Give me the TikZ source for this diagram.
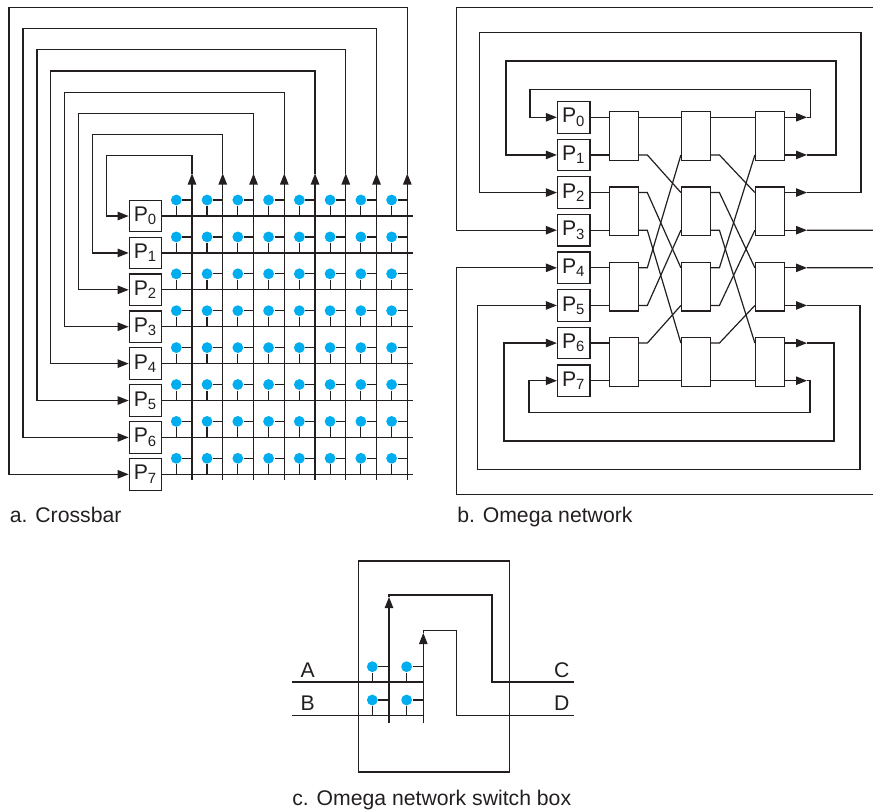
\documentclass[tikz,border=0pt]{standalone}
\usepackage{fontspec}
\setmainfont{Liberation Sans}
\usetikzlibrary{arrows.meta}
\definecolor{linecolor}{HTML}{231F20}
\definecolor{dotcolor}{HTML}{00AEEF}
\newcommand{\figfont}{\fontsize{10.6}{12.7}\selectfont}

\begin{document}
\begin{tikzpicture}[x=0.5pt, y=-0.5pt, line width=0.6pt, color=linecolor,
    pbox/.style={draw, fill=white, minimum width=16.2pt, minimum height=15.8pt,
                 inner sep=0pt, font=\figfont},
    sbox/.style={draw, minimum width=14.4pt, minimum height=24.4pt, inner sep=0pt},
    xdot/.style={circle, fill=dotcolor, inner sep=0pt, minimum size=5.4pt},
    arr/.style={-{Triangle[length=5.5pt, width=4.2pt]}},
    figtext/.style={inner sep=0pt, font=\figfont}
]
    \useasboundingbox (0,0) rectangle (873,810);

    % Crossbar: processors
    \foreach \k in {0,...,7}
        \node[pbox] (cp\k) at (145.5, 216+36.9*\k) {P\textsubscript{\k}};

    % Crossbar: rows, columns and the lines back to the processors
    \foreach \k in {0,...,7} {
        \draw (cp\k.east) -- (413, 216+36.9*\k);
        \draw[arr] (192+30.76*\k, 480) -- (192+30.76*\k, 173.5);
        \draw[arr] (192+30.76*\k, 173.5) |- (106.7-13.96*\k, 155.7-21.2*\k)
              |- (cp\k.west);
    }

    % Crossbar: crosspoints
    \foreach \i in {0,...,7}
        \foreach \m in {0,...,7} {
            \node[xdot] (x\i\m) at (176.3+30.76*\m, 200+36.9*\i) {};
            \draw (x\i\m) -- (176.3+30.76*\m, 216+36.9*\i);
            \draw (x\i\m) -- (192+30.76*\m, 200+36.9*\i);
        }

    % Omega network: processors
    \foreach \k in {0,...,7}
        \node[pbox] (op\k) at (573.7, 117.3+37.63*\k) {P\textsubscript{\k}};

    % Omega network: switch boxes, three stages
    \foreach \s/\sx in {1/623.8, 2/695.9, 3/769.9}
        \foreach \p in {0,...,3}
            \node[sbox] (s\s\p) at (\sx, 136.1+75.26*\p) {};

    % processors to first stage
    \foreach \k in {0,...,7} {
        \pgfmathtruncatemacro{\p}{\k/2}
        \draw (op\k.east) -- (op\k.east -| s1\p.west);
    }

    % perfect shuffle between stages
    \foreach \s/\n in {1/2, 2/3}
        \foreach \k in {0,...,7} {
            \pgfmathtruncatemacro{\p}{\k/2}
            \pgfmathtruncatemacro{\q}{mod(\k,4)}
            \pgfmathtruncatemacro{\j}{mod(2*\k,8)+(\k>3)}
            \draw (s\s\p.east |- op\k.east) -- ++(8.5,0)
                  -- (s\n\q.west |- op\j.east);
        }

    % last stage outputs
    \foreach \k in {0,...,7} {
        \pgfmathtruncatemacro{\p}{\k/2}
        \coordinate (out\k) at (807, 117.3+37.63*\k);
        \draw[arr] (s3\p.east |- op\k.east) -- (out\k);
    }

    % loops back to the processors
    \foreach \k/\rx/\ty/\lx in {0/810.7/89.3/530, 1/836/61/506, 2/861/32.7/479.3,
                                5/860/469.3/477.3, 6/834/441/504, 7/810/412.7/529}
        \draw[arr] (out\k) -| (\rx, \ty) -- (\lx, \ty) |- (op\k.west);

    % the two outer loops leave the picture
    \coordinate (edge3) at (873, 230.2);
    \coordinate (edge4) at (873, 267.8);
    \coordinate (top3) at (873, 7.3);
    \coordinate (bot4) at (873, 494.3);
    \draw (out3) -- (edge3);
    \draw (out4) -- (edge4);
    \draw[arr] (top3) -- (456.7, 7.3) |- (op3.west);
    \draw[arr] (bot4) -- (456.7, 494.3) |- (op4.west);

    % Switch box
    \node[draw, minimum width=75.6pt, minimum height=105.5pt, inner sep=0pt]
         (swbox) at (433.7, 666.5) {};
    \coordinate (ina) at (291.7, 682);
    \coordinate (inb) at (291.7, 715.3);
    \coordinate (outc) at (574, 682);
    \coordinate (outd) at (574, 715.3);
    \coordinate (va) at (389, 723.3);
    \coordinate (vb) at (423.3, 723.3);

    \draw (ina) -- (ina -| vb);
    \draw (inb) -- (inb -| vb);
    \draw[arr] (va) -- (389, 597);
    \draw (389, 597) |- (492, 595) |- (outc);
    \draw[arr] (vb) -- (423.3, 633);
    \draw (423.3, 633) |- (456.7, 630.7) |- (outd);

    % switch box crosspoints
    \foreach \i/\ry in {0/682, 1/715.3}
        \foreach \m/\cx in {0/389, 1/423.3} {
            \node[xdot] (sx\i\m) at (\cx-16.7, \ry-15.3) {};
            \draw (sx\i\m) -- (\cx-16.7, \ry);
            \draw (sx\i\m) -- (\cx, \ry-15.3);
        }

    % labels
    \node[figtext, anchor=base west] (la) at (300, 677.3) {A};
    \node[figtext, anchor=base west] (lb) at (300, 710.7) {B};
    \node[figtext, anchor=base east] (lc) at (570, 677.3) {C};
    \node[figtext, anchor=base east] (ld) at (570, 710.7) {D};

    % captions
    \node[figtext, anchor=base west] (capa) at (9.3, 522) {a. Crossbar};
    \node[figtext, anchor=base west] (capb) at (456.7, 522) {b. Omega network};
    \node[figtext, anchor=base west] (capc) at (291.7, 805.5)
         {c. Omega network switch box};
\end{tikzpicture}
\end{document}
